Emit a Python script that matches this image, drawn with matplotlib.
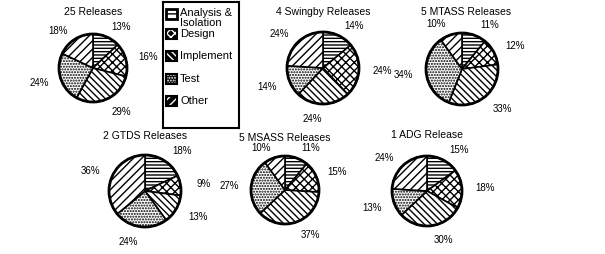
import numpy as np
import matplotlib.pyplot as plt
from matplotlib.patches import Rectangle

plt.rcParams['font.family'] = ['Liberation Sans', 'DejaVu Sans']
plt.rcParams['hatch.linewidth'] = 1.0

# Datos: porcentaje de esfuerzo por fase
fases = ['Analysis &\nIsolation', 'Design', 'Implement', 'Test', 'Other']
titulos = ['25 Releases', '4 Swingby Releases', '5 MTASS Releases',
           '2 GTDS Releases', '5 MSASS Releases', '1 ADG Release']
rel_25 = [13, 16, 29, 24, 18]
swingby = [14, 24, 24, 14, 24]
mtass = [11, 12, 33, 34, 10]
gtds = [18, 9, 13, 24, 36]
msass = [11, 15, 37, 27, 10]
adg = [15, 18, 30, 13, 24]
series = [rel_25, swingby, mtass, gtds, msass, adg]

hatches = ['-----', 'xxxx', '\\\\\\\\\\', '......', '////']

W, H = 605, 254
fig = plt.figure(figsize=(W / 100, H / 100), dpi=100)

# centro (px), radio (px), posicion del titulo (px)
centros = [(93, 68, 34), (323, 68, 36), (462, 69, 36),
           (145, 191, 36), (285, 190, 34), (427, 191, 35)]
titulo_y = [12, 12, 12, 136, 138, 135]
titulo_x = [93, 323, 466, 145, 285, 427]

lim = 1.9
for vals, tit, (cx, cy, r), tx0, ty in zip(series, titulos, centros, titulo_x, titulo_y):
    s = r * lim
    ax = fig.add_axes([(cx - s) / W, 1 - (cy + s) / H, 2 * s / W, 2 * s / H])
    wedges, _ = ax.pie(vals, startangle=90, counterclock=False,
                       colors=['white'] * len(vals),
                       wedgeprops=dict(edgecolor='black', linewidth=1.2))
    for w, h, v in zip(wedges, hatches, vals):
        w.set_hatch(h)
        # etiqueta del porcentaje, algo desplazada hacia los lados
        ang = np.deg2rad((w.theta1 + w.theta2) / 2)
        c, sn = np.cos(ang), np.sin(ang)
        tx = 1.35 * c + 0.3 * np.sign(c)
        ty_ = (1.3 if sn > 0 else 1.42) * sn
        ax.text(tx, ty_, f'{v}%', ha='center', va='center', fontsize=7)
    # borde exterior grueso
    ax.add_patch(plt.Circle((0, 0), 1, fill=False, edgecolor='black', linewidth=2))
    ax.set_xlim(-lim, lim)
    ax.set_ylim(-lim, lim)
    ax.set_aspect('equal')
    ax.axis('off')
    fig.text(tx0 / W, 1 - ty / H, tit, ha='center', va='center', fontsize=7.5)

# Leyenda dibujada a mano
lx0, ly0, lx1, ly1 = 163, 2, 239, 128
axl = fig.add_axes([lx0 / W, 1 - ly1 / H, (lx1 - lx0) / W, (ly1 - ly0) / H])
axl.set_xlim(lx0, lx1)
axl.set_ylim(ly1, ly0)
axl.set_xticks([])
axl.set_yticks([])
for sp in axl.spines.values():
    sp.set_linewidth(1.5)
pos_y = [14, 34, 56, 79, 101]
for i, (fase, h, py) in enumerate(zip(fases, hatches, pos_y)):
    if i == 0:
        axl.add_patch(Rectangle((166, py - 5), 11, 10, facecolor='white',
                                edgecolor='black', hatch='---', linewidth=2))
    else:
        axl.add_patch(Rectangle((166, py - 5), 11, 10, facecolor='black',
                                edgecolor='white', hatch=h, linewidth=0))
        axl.add_patch(Rectangle((166, py - 5), 11, 10, fill=False,
                                edgecolor='black', linewidth=1.5))
    axl.text(180, py + 4 if i == 0 else py, fase, fontsize=8,
             va='center', ha='left', linespacing=0.9)

fig.savefig('out.png', dpi=100)
